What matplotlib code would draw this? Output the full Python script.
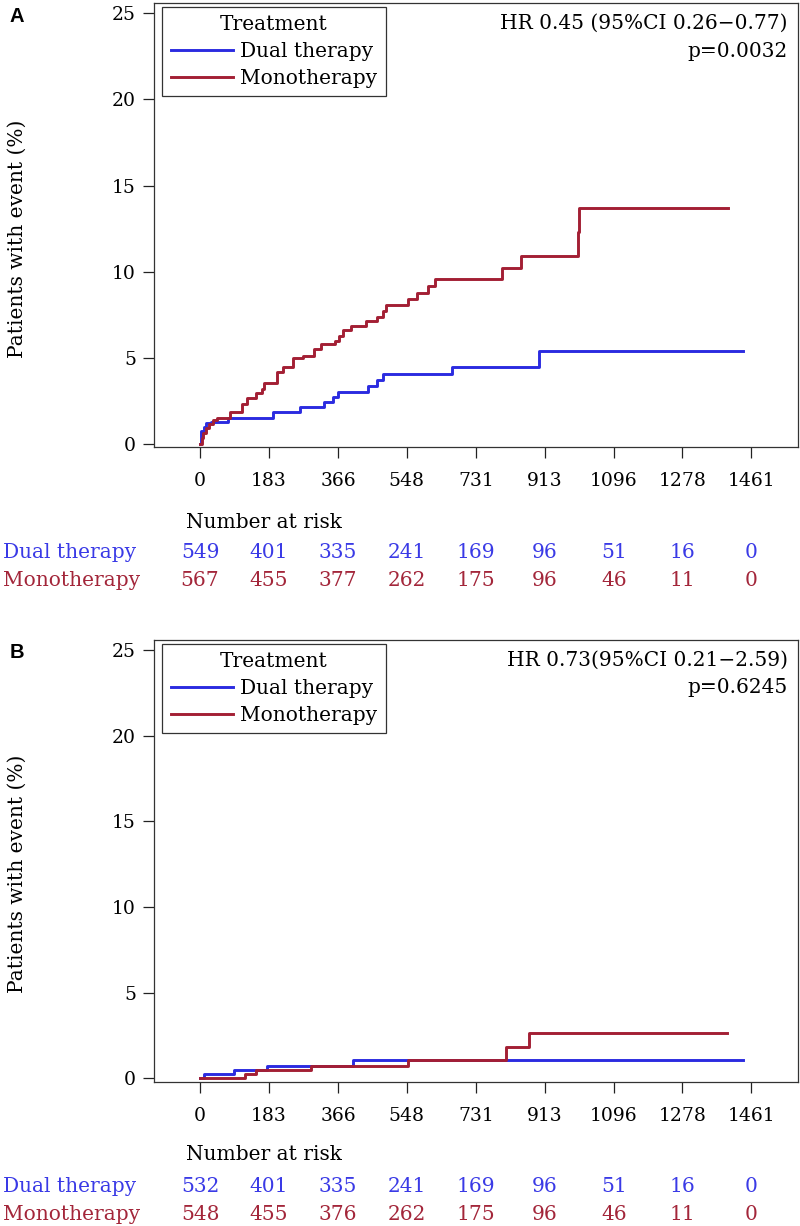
import matplotlib
matplotlib.use('Agg')
import matplotlib.pyplot as plt
import matplotlib.transforms as mtransforms

# DATA

days_ticks = [0, 183, 366, 548, 731, 913, 1096, 1278, 1461]
y_ticks = [0, 5, 10, 15, 20, 25]

# panel A - cumulative event (%) step curves
a_dual_t = [0, 3, 10, 17, 30, 75, 193, 265, 329, 352, 366, 445, 469, 485, 667, 898, 1439]
a_dual_y = [0, 0.75, 1.0, 1.2, 1.3, 1.5, 1.86, 2.15, 2.45, 2.75, 3.0, 3.35, 3.7, 4.06, 4.5, 5.4, 5.4]

a_mono_t = [0, 4, 9, 17, 25, 35, 45, 80, 110, 125, 148, 163, 170, 203, 219, 245, 273, 302, 320,
            358, 368, 379, 400, 440, 469, 484, 493, 552, 575, 604, 622, 800, 850, 1001, 1003, 1399]
a_mono_y = [0, 0.35, 0.64, 0.93, 1.16, 1.39, 1.5, 1.86, 2.3, 2.7, 2.94, 3.22, 3.55, 4.2, 4.45, 4.98,
            5.1, 5.5, 5.8, 6.0, 6.3, 6.6, 6.84, 7.13, 7.4, 7.7, 8.05, 8.4, 8.75, 9.16, 9.57, 10.2,
            10.9, 12.3, 13.7, 13.7]

# panel B
b_dual_t = [0, 11, 91, 177, 406, 1439]
b_dual_y = [0, 0.25, 0.5, 0.73, 1.05, 1.05]

b_mono_t = [0, 119, 148, 293, 551, 810, 872, 1396]
b_mono_y = [0, 0.23, 0.48, 0.72, 1.07, 1.8, 2.65, 2.65]

risk_a_dual = [549, 401, 335, 241, 169, 96, 51, 16, 0]
risk_a_mono = [567, 455, 377, 262, 175, 96, 46, 11, 0]
risk_b_dual = [532, 401, 335, 241, 169, 96, 51, 16, 0]
risk_b_mono = [548, 455, 376, 262, 175, 96, 46, 11, 0]

hr_a = ['HR 0.45 (95%CI 0.26\u22120.77)', 'p=0.0032']
hr_b = ['HR 0.73(95%CI 0.21\u22122.59)', 'p=0.6245']

BLUE = '#2b2be0'
RED = '#a31f34'
BLUE_TXT = '#3a3ae6'
RED_TXT = '#a3263a'

FS = 14.5
TICK_FS = 13.5

plt.rcParams['font.family'] = ['DejaVu Serif']
plt.rcParams['axes.linewidth'] = 0.9

fig = plt.figure(figsize=(8, 12.26), dpi=100)

W, H = 800.0, 1226.0


def px_axes(left, right, top, bottom):
    return fig.add_axes([left / W, 1 - bottom / H, (right - left) / W, (bottom - top) / H])


def draw_panel(ax, dual_t, dual_y, mono_t, mono_y, hr, risk_dual, risk_mono,
               ylim, risk_rows_y, letter, letter_y):
    ax.step(dual_t, dual_y, where='post', color=BLUE, lw=2.1, label='Dual therapy')
    ax.step(mono_t, mono_y, where='post', color=RED, lw=2.1, label='Monotherapy')
    ax.set_xlim(-122, 1583)
    ax.set_ylim(*ylim)
    ax.set_xticks(days_ticks)
    ax.set_yticks(y_ticks)
    ax.tick_params(axis='both', direction='out', length=8, width=0.9, labelsize=TICK_FS, color='#222222')
    ax.tick_params(axis='x', pad=10)
    ax.tick_params(axis='y', pad=5)
    for s in ax.spines.values():
        s.set_color('#333333')
    ax.set_ylabel('Patients with event (%)', fontsize=FS)
    ax.yaxis.set_label_coords(-0.197, 0.47)

    leg = ax.legend(title='Treatment', loc='upper left', bbox_to_anchor=(0.0125, 0.991),
                    borderaxespad=0, fancybox=False, edgecolor='#333333', framealpha=1,
                    fontsize=FS, title_fontsize=FS, handlelength=3.1, handletextpad=0.35,
                    labelspacing=0.38, borderpad=0.42)
    leg.get_frame().set_linewidth(0.9)

    ax.text(0.985, 0.975, hr[0], transform=ax.transAxes, ha='right', va='top', fontsize=FS)
    ax.text(0.985, 0.913, hr[1], transform=ax.transAxes, ha='right', va='top', fontsize=FS)

    trans = mtransforms.blended_transform_factory(ax.transData, fig.transFigure)
    y0, y1, y2 = risk_rows_y
    fig.text(186 / W, 1 - y0 / H, 'Number at risk', ha='left', va='center', fontsize=FS)
    fig.text(3 / W, 1 - y1 / H, 'Dual therapy', ha='left', va='center', fontsize=FS, color=BLUE_TXT)
    fig.text(3 / W, 1 - y2 / H, 'Monotherapy', ha='left', va='center', fontsize=FS, color=RED_TXT)
    for d, n1, n2 in zip(days_ticks, risk_dual, risk_mono):
        ax.text(d, 1 - y1 / H, str(n1), transform=trans, ha='center', va='center',
                fontsize=FS, color=BLUE_TXT)
        ax.text(d, 1 - y2 / H, str(n2), transform=trans, ha='center', va='center',
                fontsize=FS, color=RED_TXT)

    fig.text(10 / W, 1 - letter_y / H, letter, ha='left', va='center', fontsize=14.5,
             fontweight='bold', family=['Liberation Sans', 'DejaVu Sans'])


ax_a = px_axes(154, 797.5, 3, 447)
draw_panel(ax_a, a_dual_t, a_dual_y, a_mono_t, a_mono_y, hr_a, risk_a_dual, risk_a_mono,
           (-0.17, 25.6), (523, 553, 580), 'A', 17)

ax_b = px_axes(154, 797.5, 640, 1082)
draw_panel(ax_b, b_dual_t, b_dual_y, b_mono_t, b_mono_y, hr_b, risk_b_dual, risk_b_mono,
           (-0.22, 25.58), (1155, 1187, 1214), 'B', 653)

fig.savefig('out.png', dpi=100)
